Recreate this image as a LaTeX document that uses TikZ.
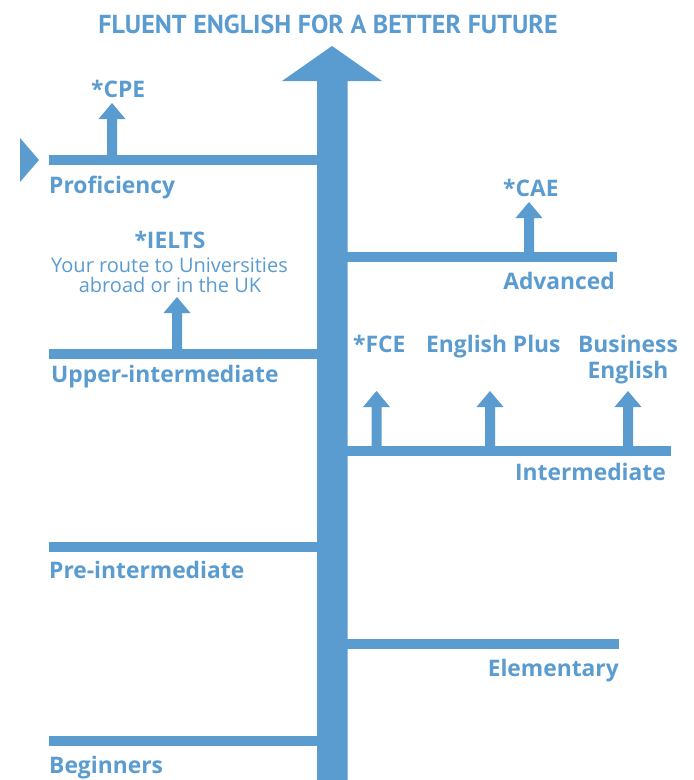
\documentclass[tikz,border=0pt]{standalone}
\usepackage{fontspec}
\setmainfont{Open Sans}
\newfontfamily\ptsans{PT Sans}
\definecolor{eblue}{RGB}{90,155,208}
\begin{document}
\begin{tikzpicture}[x=1pt,y=-1pt,
  bar/.style={fill=eblue,draw=none},
  lbl/.style={inner sep=0pt,text=eblue,font=\bfseries\fontsize{22.8}{24}\selectfont},
  sub/.style={inner sep=0pt,text=eblue,font=\fontsize{20}{22}\selectfont},
  ttl/.style={inner sep=0pt,text=eblue,font=\ptsans\bfseries\fontsize{26}{28}\selectfont}]
\useasboundingbox (0,0) rectangle (694,780);
% main trunk arrow
\fill[eblue] (317,780) -- (317,81) -- (282,81) -- (332,46) -- (382,81) -- (347.5,81) -- (347.5,780) -- cycle;
% horizontal bars
\fill[bar] (49,155) rectangle (317,165);
\fill[bar] (347,252) rectangle (617,262);
\fill[bar] (49,349) rectangle (317,359);
\fill[bar] (347,446) rectangle (671,456);
\fill[bar] (49,542) rectangle (317,552);
\fill[bar] (347,639) rectangle (619,649);
\fill[bar] (49,736) rectangle (317,746);
% marker triangle
\fill[eblue] (20,138) -- (39,160) -- (20,182) -- cycle;
% small arrows
\newcommand{\uparr}[3]{\fill[eblue] (#1-5,#2) -- (#1-5,#3+16) -- (#1-13.5,#3+16) -- (#1,#3) -- (#1+13.5,#3+16) -- (#1+5,#3+16) -- (#1+5,#2) -- cycle;}
\uparr{112}{156}{103}
\uparr{529}{253}{202}
\uparr{177}{350}{297}
\uparr{376.5}{447}{391}
\uparr{490}{447}{391}
\uparr{628}{447}{391}
% texts
\node[ttl,anchor=base] (title) at (328,33) {FLUENT ENGLISH FOR A BETTER FUTURE};
\node[lbl,anchor=base west] (cpe) at (91,97) {*CPE};
\node[lbl,anchor=base west] (prof) at (49,193) {Proficiency};
\node[lbl,anchor=base west] (cae) at (503,196) {*CAE};
\node[lbl,anchor=base east] (adv) at (615,289) {Advanced};
\node[lbl,anchor=base] (ielts) at (170,248) {*IELTS};
\node[sub,anchor=base] (route1) at (169.5,272) {Your route to Universities};
\node[sub,anchor=base] (route2) at (170,292) {abroad or in the UK};
\node[lbl,anchor=base west] (upper) at (51,382) {Upper-intermediate};
\node[lbl,anchor=base west] (fce) at (353,352) {*FCE};
\node[lbl,anchor=base west] (plus) at (426,352) {English Plus};
\node[lbl,anchor=base] (bus1) at (628,352) {Business};
\node[lbl,anchor=base] (bus2) at (628,378) {English};
\node[lbl,anchor=base east] (inter) at (666,480) {Intermediate};
\node[lbl,anchor=base west] (pre) at (49,578) {Pre-intermediate};
\node[lbl,anchor=base east] (elem) at (619,676) {Elementary};
\node[lbl,anchor=base west] (beg) at (49,773) {Beginners};
\end{tikzpicture}
\end{document}
